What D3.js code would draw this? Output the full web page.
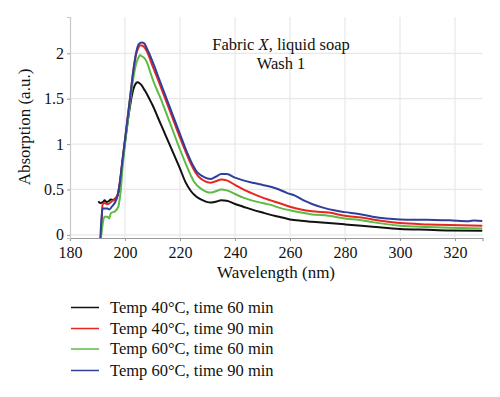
<!DOCTYPE html>
<html>
<head>
<meta charset="utf-8">
<script src="https://cdn.jsdelivr.net/npm/d3@7"></script>
<style>
  body { margin: 0; background: #fff; }
  svg text { font-family: "Liberation Serif", "DejaVu Serif", serif; fill: #111; }
</style>
</head>
<body>
<div class="chart"></div>
<script>
// spectra: [wavelength nm, absorption a.u.]
var seriesNames = [
  "Temp 40°C, time 60 min",
  "Temp 40°C, time 90 min",
  "Temp 60°C, time 60 min",
  "Temp 60°C, time 90 min"
];
var seriesColors = ["#111111", "#e8261f", "#5dbb45", "#2f3f9c"];

var black40_60 = [
  [190.3,0.37],[191,0.35],[192,0.36],[192.6,0.38],[193.3,0.36],[194,0.37],[194.9,0.39],[195.7,0.385],
  [196.5,0.40],[197,0.42],[197.6,0.46],[198.2,0.57],[198.8,0.72],[199.5,0.9],[200,1.02],[201,1.25],
  [202,1.45],[203,1.6],[204,1.67],[204.6,1.68],[205.3,1.67],[206,1.65],[207,1.6],[208,1.55],
  [209,1.49],[210,1.43],[212,1.29],[214,1.15],[216,1.01],[218,0.87],[220,0.73],[222,0.58],
  [224,0.48],[226,0.42],[228,0.385],[230,0.36],[231,0.355],[233,0.365],[235,0.38],[237,0.375],
  [240,0.34],[243,0.31],[246,0.28],[250,0.245],[253,0.22],[256,0.2],[260,0.17],[264,0.155],
  [268,0.145],[274,0.13],[280,0.115],[286,0.1],[290,0.09],[300,0.065],[310,0.055],[318,0.048],
  [330,0.045]
];
var red40_90 = [
  [191.2,-0.05],[191.6,0.2],[191.8,0.33],[192.5,0.35],[193.3,0.34],[193.9,0.34],[195.2,0.37],
  [196.6,0.40],[197.2,0.43],[198,0.55],[199,0.8],[200,1.05],[201,1.3],[202,1.55],[203,1.8],
  [204,1.98],[205,2.07],[205.7,2.09],[207,2.07],[208,2.02],[210,1.86],[212,1.71],[214,1.55],
  [216,1.39],[218,1.23],[220,1.07],[222,0.92],[224,0.78],[225,0.72],[226,0.67],[227,0.635],
  [228,0.61],[230,0.58],[231,0.575],[233,0.59],[235,0.61],[237,0.6],[240,0.55],[243,0.5],[246,0.46],
  [250,0.41],[253,0.38],[256,0.35],[260,0.31],[264,0.28],[268,0.26],[274,0.245],[280,0.21],
  [286,0.19],[290,0.17],[300,0.13],[310,0.115],[318,0.107],[330,0.1]
];
var green60_60 = [
  [191.2,-0.05],[191.8,0.1],[192.5,0.2],[193.6,0.2],[194.2,0.18],[194.9,0.24],[196.4,0.26],
  [197.6,0.31],[198,0.38],[198.5,0.5],[199,0.7],[200,1.0],[201,1.25],[202,1.5],[203,1.72],
  [204,1.88],[205,1.96],[205.5,1.98],[206,1.97],[207,1.95],[208,1.9],[209,1.81],[210,1.72],
  [211,1.64],[212,1.57],[213,1.5],[214,1.42],[216,1.26],[218,1.1],[220,0.94],[222,0.79],
  [224,0.65],[225,0.59],[226,0.55],[228,0.5],[230,0.47],[231,0.465],[233,0.48],[235,0.5],[237,0.49],
  [240,0.45],[243,0.41],[246,0.38],[250,0.35],[253,0.33],[256,0.3],[260,0.27],[264,0.245],
  [268,0.225],[274,0.21],[280,0.18],[286,0.16],[290,0.14],[300,0.1],[310,0.085],[318,0.077],
  [330,0.07]
];
var blue60_90 = [
  [191.0,-0.05],[191.5,0.2],[191.8,0.29],[193.6,0.29],[194.3,0.28],[195.2,0.31],[196.6,0.37],
  [197.2,0.42],[198,0.55],[199,0.8],[200,1.05],[201,1.3],[202,1.55],[203,1.8],[204,2.0],
  [205,2.1],[206.1,2.12],[207,2.11],[208,2.05],[208.8,2.0],[210,1.91],[212,1.75],[214,1.59],
  [216,1.43],[218,1.27],[220,1.11],[222,0.95],[224,0.81],[225,0.75],[226,0.7],[227,0.67],[228,0.65],
  [230,0.62],[231,0.615],[233,0.64],[235,0.67],[237,0.67],[240,0.63],[243,0.6],[247,0.57],
  [250,0.55],[253,0.53],[256,0.5],[259,0.46],[262,0.43],[265,0.38],[268,0.34],[272,0.3],
  [276,0.27],[280,0.25],[285,0.23],[290,0.2],[295,0.18],[300,0.17],[310,0.165],[318,0.16],
  [325,0.15],[327,0.158],[330,0.152]
];
var allSeries = [black40_60, red40_90, green60_60, blue60_90];

var xTicks = [180, 200, 220, 240, 260, 280, 300, 320];
var yTicks = [0, 0.5, 1, 1.5, 2];

var svgWidth = 500, svgHeight = 397;
var plot = { left: 70, right: 482.5, top: 17, bottom: 238 };

var svg = d3.select(".chart").append("svg")
  .attr("width", svgWidth)
  .attr("height", svgHeight);

var x = d3.scaleLinear().domain([180, 330]).range([plot.left, plot.right]);
var y = d3.scaleLinear().domain([-0.035, 2.4]).range([plot.bottom, plot.top]);

// grid
svg.append("g").selectAll("line").data(xTicks.slice(1)).enter().append("line")
  .attr("x1", d => x(d)).attr("x2", d => x(d))
  .attr("y1", plot.top).attr("y2", plot.bottom)
  .attr("stroke", "#e8e8e8").attr("stroke-width", 1.2);
svg.append("g").selectAll("line").data(yTicks).enter().append("line")
  .attr("x1", plot.left).attr("x2", plot.right)
  .attr("y1", d => y(d)).attr("y2", d => y(d))
  .attr("stroke", "#e8e8e8").attr("stroke-width", 1.2);

// spectra
svg.append("clipPath").attr("id", "clip").append("rect")
  .attr("x", plot.left).attr("y", plot.top)
  .attr("width", plot.right - plot.left).attr("height", plot.bottom - plot.top);

var line = d3.line()
  .x(d => x(d[0]))
  .y(d => y(d[1]))
  .curve(d3.curveMonotoneX);

svg.append("g").attr("clip-path", "url(#clip)")
  .selectAll("path").data(allSeries).enter().append("path")
  .attr("d", line)
  .attr("fill", "none")
  .attr("stroke", (d, i) => seriesColors[i])
  .attr("stroke-width", 2)
  .attr("stroke-linejoin", "round");

// axes
var bottomAxis = d3.axisBottom(x).tickValues(xTicks).tickSize(3).tickPadding(6);
var leftAxis = d3.axisLeft(y).tickValues(yTicks).tickSize(3).tickPadding(3)
  .tickFormat(d3.format("~g"));

var gx = svg.append("g")
  .attr("transform", "translate(0," + plot.bottom + ")")
  .call(bottomAxis);
var gy = svg.append("g")
  .attr("transform", "translate(" + plot.left + ",0)")
  .call(leftAxis);

gx.select(".domain").attr("stroke", "#999").attr("stroke-width", 1.2);
gy.select(".domain").attr("stroke", "#c8c8c8").attr("stroke-width", 1.2);
[gx, gy].forEach(function(g) {
  g.selectAll(".tick line").attr("stroke", "#999");
  g.selectAll(".tick text")
    .style("font-family", "Liberation Serif, serif")
    .style("font-size", "16px")
    .attr("fill", "#111");
});

// labels
svg.append("text")
  .attr("text-anchor", "middle")
  .attr("transform", "translate(24," + 127 + ") rotate(-90)")
  .attr("dy", "0.35em")
  .style("font-size", "17px")
  .text("Absorption (a.u.)");

svg.append("text")
  .attr("text-anchor", "middle")
  .attr("x", 276).attr("y", 278)
  .style("font-size", "17px")
  .text("Wavelength (nm)");

var title = svg.append("text")
  .attr("text-anchor", "middle")
  .attr("x", 281).attr("y", 50)
  .style("font-size", "16.5px");
title.append("tspan").text("Fabric ");
title.append("tspan").style("font-style", "italic").text("X");
title.append("tspan").text(", liquid soap");

svg.append("text")
  .attr("text-anchor", "middle")
  .attr("x", 281).attr("y", 69)
  .style("font-size", "16.5px")
  .text("Wash 1");

// legend
var legendY = [307.5, 328.5, 349, 370.5];
var legend = svg.append("g").selectAll("g").data(seriesNames).enter().append("g")
  .attr("transform", (d, i) => "translate(0," + legendY[i] + ")");
legend.append("line")
  .attr("x1", 71).attr("x2", 99)
  .attr("stroke", (d, i) => seriesColors[i])
  .attr("stroke-width", 1.5);
legend.append("text")
  .attr("x", 110).attr("dy", "0.33em")
  .style("font-size", "16.5px")
  .text(d => d);
</script>
</body>
</html>
